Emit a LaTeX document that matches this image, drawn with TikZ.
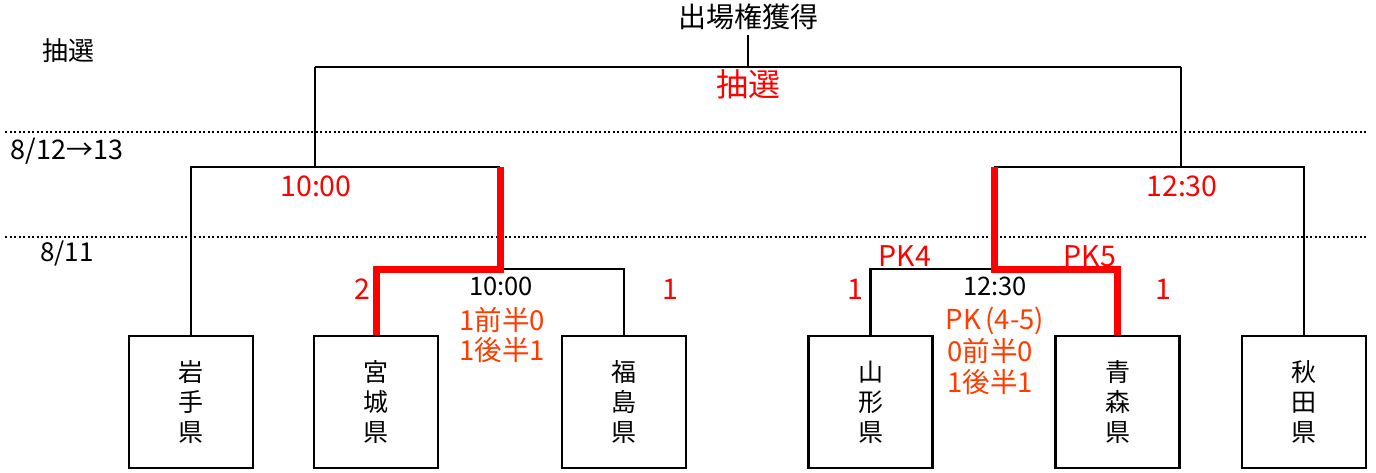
\documentclass[tikz,border=0pt]{standalone}
\usepackage{fontspec}
\setmainfont{Noto Sans CJK JP}
\definecolor{winred}{RGB}{255,0,0}
\definecolor{scorered}{RGB}{255,60,0}
\tikzset{
  blk/.style={line width=2.2pt, black, line join=miter},
  win/.style={line width=7pt, winred, line join=miter},
  sepline/.style={line width=2pt, black, dash pattern=on 2pt off 2.5pt},
  pref/.style={draw, line width=2.2pt, minimum width=124pt, minimum height=132pt, inner sep=0pt, align=center, font=\fontsize{25}{30}\selectfont},
  lbl/.style={inner sep=0pt, font=\fontsize{26}{28}\selectfont},
  redbig/.style={inner sep=0pt, text=winred, font=\fontsize{28.5}{30}\selectfont},
  score/.style={inner sep=0pt, text=scorered, font=\fontsize{27.5}{30}\selectfont},
}
\begin{document}
\begin{tikzpicture}[x=1pt,y=-1pt]
\useasboundingbox (0,0) rectangle (1376,472);
% separators
\draw[sepline] (5,132) -- (1366,132);
\draw[sepline] (5,237) -- (1366,237);
% prefecture boxes
\node[pref] (iwate) at (191,402) {岩\\手\\県};
\node[pref] (miyagi) at (376,402) {宮\\城\\県};
\node[pref] (fukushima) at (624,402) {福\\島\\県};
\node[pref] (yamagata) at (870.5,402) {山\\形\\県};
\node[pref] (aomori) at (1117.5,402) {青\\森\\県};
\node[pref] (akita) at (1304,402) {秋\\田\\県};
% junction coordinates
\coordinate (Tc) at (748,67);
\coordinate (T1) at (315,67);
\coordinate (T2) at (1181,67);
\coordinate (L1) at (190,167);
\coordinate (Lt) at (315,167);
\coordinate (L2) at (500,167);
\coordinate (Q1a) at (376,269);
\coordinate (Q1m) at (500,269);
\coordinate (Q1b) at (624,269);
\coordinate (R1) at (994,167);
\coordinate (Rt) at (1181,167);
\coordinate (R2) at (1304,167);
\coordinate (Q2a) at (871,269);
\coordinate (Q2m) at (994,269);
\coordinate (Q2b) at (1117.5,269);
% title
\node[lbl, font=\fontsize{28}{30}\selectfont] (title) at (748,17) {出場権獲得};
\coordinate (Ttop) at (748,35);
% black lines
\draw[blk] (Ttop) -- (Tc);
\draw[blk] (T1) -- (T2);
\draw[blk] (T1) -- (Lt);
\draw[blk] (T2) -- (Rt);
\draw[blk] (iwate.north) |- (L2);
\draw[blk] (fukushima.north) |- (Q1m);
\draw[blk] (akita.north) |- (R1);
\draw[blk] (yamagata.north) |- (Q2m);
% winners (red)
\draw[win] (miyagi.north) |- (Q1m) -- (L2);
\draw[win] (aomori.north) |- (Q2m) -- (R1);
% labels
\node[lbl] (chusen) at (68,51) {抽選};
\node[lbl, font=\fontsize{27}{28}\selectfont] (d1) at (67,151) {8/12→13};
\node[lbl] (d2) at (67,253) {8/11};
\node[redbig, font=\fontsize{32}{34}\selectfont] (chusenred) at (748,84) {抽選};
\node[redbig] (t1) at (316,186) {10:00};
\node[redbig] (t2) at (1182,186) {12:30};
\node[redbig] (s1a) at (362,289) {2};
\node[redbig] (s1b) at (670,289) {1};
\node[redbig] (s2a) at (855,289) {1};
\node[redbig] (s2b) at (1163,289) {1};
\node[redbig] (pk4) at (905,256) {PK4};
\node[redbig] (pk5) at (1090,256) {PK5};
\node[lbl, font=\fontsize{25.5}{28}\selectfont] (k1) at (501,286) {10:00};
\node[lbl, font=\fontsize{25.5}{28}\selectfont] (k2) at (995,286) {12:30};
\node[score] (h1a) at (502,320) {1前半0};
\node[score] (h1b) at (502,350) {1後半1};
\node[score] (pk) at (995,321) {PK\,(4-5)};
\node[score] (h2a) at (990,351) {0前半0};
\node[score] (h2b) at (990,382) {1後半1};
\end{tikzpicture}
\end{document}
